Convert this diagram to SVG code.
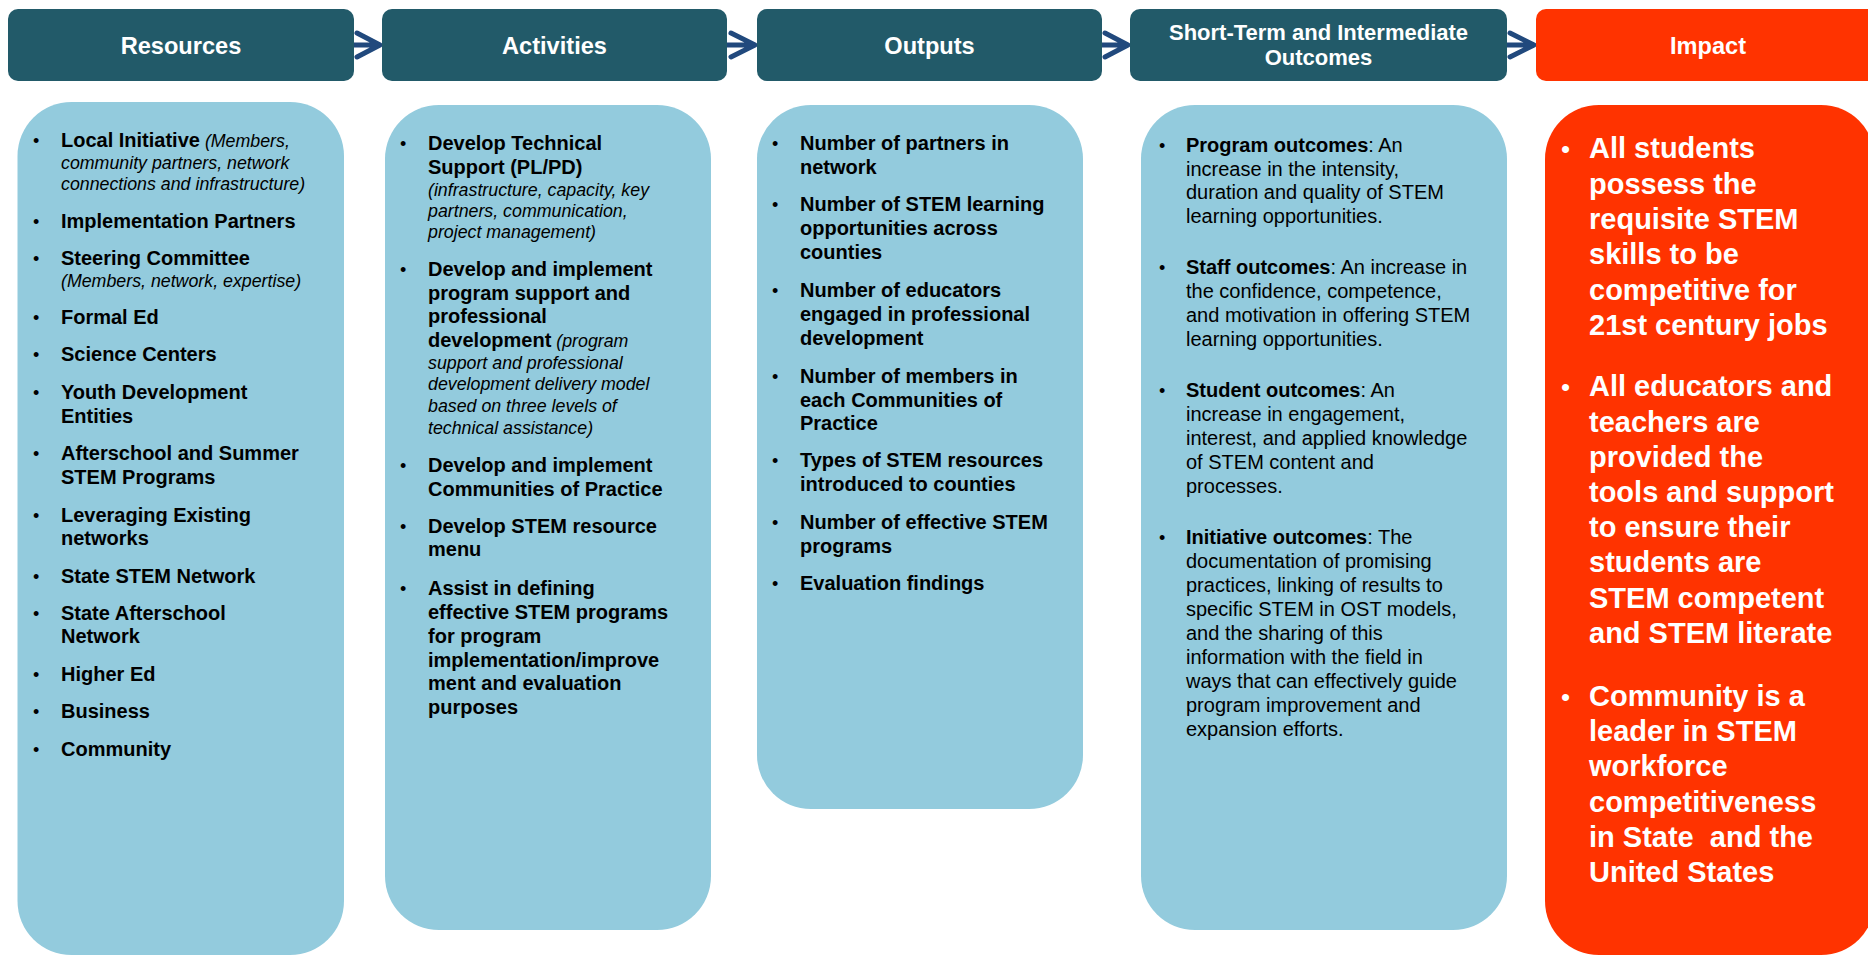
<svg xmlns="http://www.w3.org/2000/svg" width="1868" height="956" viewBox="0 0 1868 956">
  <defs>
    <style>
      text { font-family: "Liberation Sans", Arial, sans-serif; fill: #000; }
      .hdr { fill: #225A69; }
      .hdr-imp { fill: #FF3300; }
      .body { fill: #93CBDD; }
      .body-imp { fill: #FF3300; }
      .ht { fill: #fff; font-weight: bold; font-size: 23.6px; text-anchor: middle; }
      .ht2 { font-size: 22px; }
      .b { font-weight: bold; font-size: 20px; }
      .i { font-style: italic; font-size: 17.8px; }
      .r { font-size: 20px; }
      .w { fill: #fff; font-weight: bold; font-size: 29px; white-space: pre; }
      .bl { font-size: 18px; }
      .blw { fill: #fff; font-size: 26px; }
      .arrow { fill: none; stroke: #21497D; stroke-width: 5; stroke-linecap: round; stroke-linejoin: round; }
    </style>
  </defs>

  <!-- connectors between the column headers -->
  <g id="connectors">
    <path class="arrow" d="M354 45 H379 M357 33 L380 45 L357 57"/>
    <path class="arrow" d="M727 45 H754 M731 33 L755 45 L731 57"/>
    <path class="arrow" d="M1102 45 H1127 M1105 33 L1128 45 L1105 57"/>
    <path class="arrow" d="M1507 45 H1533 M1510 33 L1534 45 L1510 57"/>
  </g>

  <!-- Resources -->
  <g id="resources">
    <rect class="hdr" x="8" y="9" width="346" height="72" rx="10"/>
    <text class="ht" x="181" y="53.5">Resources</text>
    <rect class="body" x="17.5" y="102" width="326.5" height="853" rx="54"/>
    <text class="bl" x="33" y="147">•</text>
    <text class="bl" x="33" y="228">•</text>
    <text class="bl" x="33" y="265">•</text>
    <text class="bl" x="33" y="324">•</text>
    <text class="bl" x="33" y="361">•</text>
    <text class="bl" x="33" y="399">•</text>
    <text class="bl" x="33" y="460">•</text>
    <text class="bl" x="33" y="522">•</text>
    <text class="bl" x="33" y="583">•</text>
    <text class="bl" x="33" y="620">•</text>
    <text class="bl" x="33" y="681">•</text>
    <text class="bl" x="33" y="718">•</text>
    <text class="bl" x="33" y="756">•</text>
    <text x="61" y="147"><tspan class="b">Local Initiative</tspan><tspan class="i"> (Members,</tspan></text>
    <text class="i" x="61" y="168.5">community partners, network</text>
    <text class="i" x="61" y="190">connections and infrastructure)</text>
    <text class="b" x="61" y="228">Implementation Partners</text>
    <text class="b" x="61" y="265">Steering Committee</text>
    <text class="i" x="61" y="287">(Members, network, expertise)</text>
    <text class="b" x="61" y="324">Formal Ed</text>
    <text class="b" x="61" y="361">Science Centers</text>
    <text class="b" x="61" y="399">Youth Development</text>
    <text class="b" x="61" y="423">Entities</text>
    <text class="b" x="61" y="460">Afterschool and Summer</text>
    <text class="b" x="61" y="484">STEM Programs</text>
    <text class="b" x="61" y="522">Leveraging Existing</text>
    <text class="b" x="61" y="545">networks</text>
    <text class="b" x="61" y="583">State STEM Network</text>
    <text class="b" x="61" y="620">State Afterschool</text>
    <text class="b" x="61" y="643">Network</text>
    <text class="b" x="61" y="681">Higher Ed</text>
    <text class="b" x="61" y="718">Business</text>
    <text class="b" x="61" y="756">Community</text>
  </g>

  <!-- Activities -->
  <g id="activities">
    <rect class="hdr" x="382" y="9" width="345" height="72" rx="10"/>
    <text class="ht" x="554.5" y="53.5">Activities</text>
    <rect class="body" x="385" y="105" width="326" height="825" rx="54"/>
    <text class="bl" x="400" y="150">•</text>
    <text class="bl" x="400" y="276">•</text>
    <text class="bl" x="400" y="472">•</text>
    <text class="bl" x="400" y="533">•</text>
    <text class="bl" x="400" y="595">•</text>
    <text class="b" x="428" y="150">Develop Technical</text>
    <text class="b" x="428" y="174">Support (PL/PD)</text>
    <text class="i" x="428" y="196">(infrastructure, capacity, key</text>
    <text class="i" x="428" y="217">partners, communication,</text>
    <text class="i" x="428" y="238">project management)</text>
    <text class="b" x="428" y="276">Develop and implement</text>
    <text class="b" x="428" y="300">program support and</text>
    <text class="b" x="428" y="323">professional</text>
    <text x="428" y="347"><tspan class="b">development</tspan><tspan class="i"> (program</tspan></text>
    <text class="i" x="428" y="368.5">support and professional</text>
    <text class="i" x="428" y="390">development delivery model</text>
    <text class="i" x="428" y="412">based on three levels of</text>
    <text class="i" x="428" y="434">technical assistance)</text>
    <text class="b" x="428" y="472">Develop and implement</text>
    <text class="b" x="428" y="496">Communities of Practice</text>
    <text class="b" x="428" y="533">Develop STEM resource</text>
    <text class="b" x="428" y="556">menu</text>
    <text class="b" x="428" y="595">Assist in defining</text>
    <text class="b" x="428" y="618.5">effective STEM programs</text>
    <text class="b" x="428" y="642.5">for program</text>
    <text class="b" x="428" y="666.5">implementation/improve</text>
    <text class="b" x="428" y="690">ment and evaluation</text>
    <text class="b" x="428" y="713.5">purposes</text>
  </g>

  <!-- Outputs -->
  <g id="outputs">
    <rect class="hdr" x="757" y="9" width="345" height="72" rx="10"/>
    <text class="ht" x="929.5" y="53.5">Outputs</text>
    <rect class="body" x="757" y="105" width="326" height="704" rx="54"/>
    <text class="bl" x="772" y="150">•</text>
    <text class="bl" x="772" y="211">•</text>
    <text class="bl" x="772" y="297">•</text>
    <text class="bl" x="772" y="383">•</text>
    <text class="bl" x="772" y="467">•</text>
    <text class="bl" x="772" y="529">•</text>
    <text class="bl" x="772" y="590">•</text>
    <text class="b" x="800" y="150">Number of partners in</text>
    <text class="b" x="800" y="173.5">network</text>
    <text class="b" x="800" y="211">Number of STEM learning</text>
    <text class="b" x="800" y="235">opportunities across</text>
    <text class="b" x="800" y="258.5">counties</text>
    <text class="b" x="800" y="297">Number of educators</text>
    <text class="b" x="800" y="321">engaged in professional</text>
    <text class="b" x="800" y="344.5">development</text>
    <text class="b" x="800" y="383">Number of members in</text>
    <text class="b" x="800" y="406.5">each Communities of</text>
    <text class="b" x="800" y="430">Practice</text>
    <text class="b" x="800" y="467">Types of STEM resources</text>
    <text class="b" x="800" y="491">introduced to counties</text>
    <text class="b" x="800" y="529">Number of effective STEM</text>
    <text class="b" x="800" y="553">programs</text>
    <text class="b" x="800" y="590">Evaluation findings</text>
  </g>

  <!-- Short-Term and Intermediate Outcomes -->
  <g id="outcomes">
    <rect class="hdr" x="1130" y="9" width="377" height="72" rx="10"/>
    <text class="ht ht2" x="1318.5" y="39.5">Short-Term and Intermediate</text>
    <text class="ht ht2" x="1318.5" y="65">Outcomes</text>
    <rect class="body" x="1141" y="105" width="366" height="825" rx="54"/>
    <text class="bl" x="1159" y="152">•</text>
    <text class="bl" x="1159" y="274">•</text>
    <text class="bl" x="1159" y="397">•</text>
    <text class="bl" x="1159" y="544">•</text>
    <text class="r" x="1186" y="152"><tspan font-weight="bold">Program outcomes</tspan>: An</text>
    <text class="r" x="1186" y="175.5">increase in the intensity,</text>
    <text class="r" x="1186" y="199">duration and quality of STEM</text>
    <text class="r" x="1186" y="223">learning opportunities.</text>
    <text class="r" x="1186" y="274"><tspan font-weight="bold">Staff outcomes</tspan>: An increase in</text>
    <text class="r" x="1186" y="298">the confidence, competence,</text>
    <text class="r" x="1186" y="322">and motivation in offering STEM</text>
    <text class="r" x="1186" y="345.5">learning opportunities.</text>
    <text class="r" x="1186" y="397"><tspan font-weight="bold">Student outcomes</tspan>: An</text>
    <text class="r" x="1186" y="421">increase in engagement,</text>
    <text class="r" x="1186" y="445">interest, and applied knowledge</text>
    <text class="r" x="1186" y="469">of STEM content and</text>
    <text class="r" x="1186" y="492.5">processes.</text>
    <text class="r" x="1186" y="544"><tspan font-weight="bold">Initiative outcomes</tspan>: The</text>
    <text class="r" x="1186" y="568">documentation of promising</text>
    <text class="r" x="1186" y="592">practices, linking of results to</text>
    <text class="r" x="1186" y="616">specific STEM in OST models,</text>
    <text class="r" x="1186" y="640">and the sharing of this</text>
    <text class="r" x="1186" y="664">information with the field in</text>
    <text class="r" x="1186" y="688">ways that can effectively guide</text>
    <text class="r" x="1186" y="712">program improvement and</text>
    <text class="r" x="1186" y="736">expansion efforts.</text>
  </g>

  <!-- Impact -->
  <g id="impact">
    <rect class="hdr-imp" x="1536" y="9" width="344" height="72" rx="10"/>
    <text class="ht" x="1708" y="53.5">Impact</text>
    <rect class="body-imp" x="1545" y="105" width="330" height="850" rx="54"/>
    <text class="blw" x="1561" y="158">•</text>
    <text class="blw" x="1561" y="396">•</text>
    <text class="blw" x="1561" y="706">•</text>
    <text class="w" x="1589" y="158">All students</text>
    <text class="w" x="1589" y="193.5">possess the</text>
    <text class="w" x="1589" y="229">requisite STEM</text>
    <text class="w" x="1589" y="264">skills to be</text>
    <text class="w" x="1589" y="299.5">competitive for</text>
    <text class="w" x="1589" y="335">21st century jobs</text>
    <text class="w" x="1589" y="396">All educators and</text>
    <text class="w" x="1589" y="431.5">teachers are</text>
    <text class="w" x="1589" y="466.5">provided the</text>
    <text class="w" x="1589" y="502">tools and support</text>
    <text class="w" x="1589" y="537">to ensure their</text>
    <text class="w" x="1589" y="572">students are</text>
    <text class="w" x="1589" y="607.5">STEM competent</text>
    <text class="w" x="1589" y="643">and STEM literate</text>
    <text class="w" x="1589" y="706">Community is a</text>
    <text class="w" x="1589" y="741">leader in STEM</text>
    <text class="w" x="1589" y="776">workforce</text>
    <text class="w" x="1589" y="811.5">competitiveness</text>
    <text class="w" x="1589" y="846.5">in State  and the</text>
    <text class="w" x="1589" y="882">United States</text>
  </g>
</svg>
